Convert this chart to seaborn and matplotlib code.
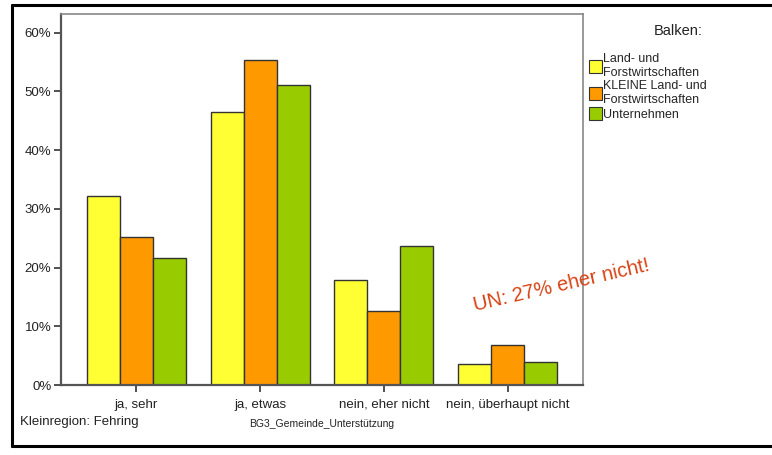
import numpy as np
import pandas as pd
import matplotlib
matplotlib.use("Agg")
import matplotlib.pyplot as plt
import matplotlib.patches as mpatches
import matplotlib.lines as mlines
import matplotlib.ticker as mticker
import seaborn as sns

# --- data ---
categories = ["ja, sehr", "ja, etwas", "nein, eher nicht", "nein, überhaupt nicht"]
groups = ["Land- und\nForstwirtschaften", "KLEINE Land- und\nForstwirtschaften", "Unternehmen"]
land_forst = [32.2, 46.5, 17.9, 3.6]
kleine_lf = [25.2, 55.4, 12.6, 6.8]
unternehmen = [21.6, 51.1, 23.7, 3.9]
yticks = [0, 10, 20, 30, 40, 50, 60]

colors = ["#FFFF33", "#FF9900", "#99CC00"]

df = pd.DataFrame({
    "Antwort": categories * 3,
    "Gruppe": [g for g in groups for _ in categories],
    "Prozent": land_forst + kleine_lf + unternehmen,
})

sns.set_style("white")
plt.rcParams["font.family"] = ["Liberation Sans", "DejaVu Sans"]

fig = plt.figure(figsize=(7.72, 4.55), dpi=100)
ax = fig.add_axes([61 / 772, 1 - 385 / 455, (583 - 61) / 772, (385 - 14) / 455])

sns.barplot(data=df, x="Antwort", y="Prozent", hue="Gruppe", order=categories,
            hue_order=groups, palette=colors, width=0.8, edgecolor="#333333",
            linewidth=1.0, saturation=1, ax=ax, legend=False)

ax.set_xlim(-0.61, 3.61)
ax.set_ylim(0, 63.2)
ax.set_yticks(yticks)
ax.yaxis.set_major_formatter(mticker.FormatStrFormatter("%d%%"))
ax.set_xlabel("")
ax.set_ylabel("")
ax.tick_params(axis="both", which="both", direction="out", length=5, width=1.2,
               color="#333333", labelsize=9.5, labelcolor="#222222", pad=2,
               left=True, bottom=True)
ax.tick_params(axis="x", pad=5)
for side in ["left", "bottom"]:
    ax.spines[side].set_color("#555555")
    ax.spines[side].set_linewidth(1.6)
for side in ["top", "right"]:
    ax.spines[side].set_color("#888888")
    ax.spines[side].set_linewidth(1.2)

# legend
handles = [mpatches.Patch(facecolor=c, edgecolor="#333333", linewidth=0.8) for c in colors]
fig.legend(handles, groups, loc="upper left", bbox_to_anchor=(584 / 772, 1 - 48 / 455),
           frameon=False, fontsize=9, handlelength=1.0, handleheight=1.2,
           handletextpad=0.15, labelspacing=0.1, borderaxespad=0)
fig.text(678 / 772, 1 - 31 / 455, "Balken:", fontsize=10.5, ha="center", va="center",
         color="#222222")

# footer texts
fig.text(20 / 772, 1 - 422 / 455, "Kleinregion: Fehring", fontsize=9.5, ha="left",
         va="center", color="#222222")
fig.text(322 / 772, 1 - 424 / 455, "BG3_Gemeinde_Unterstützung", fontsize=7.5,
         ha="center", va="center", color="#222222")

# annotation
fig.text(562 / 772, 1 - 285 / 455, "UN: 27% eher nicht!", fontsize=14.5, rotation=13,
         ha="center", va="center", color="#D84315", rotation_mode="anchor")

# outer frame
frame_kw = dict(color="black", linewidth=2.2, transform=fig.transFigure)
fig.add_artist(mlines.Line2D([12 / 772, 1.0], [1 - 5 / 455, 1 - 5 / 455], **frame_kw))
fig.add_artist(mlines.Line2D([12 / 772, 12 / 772], [1 - 5 / 455, 1 - 446 / 455], **frame_kw))
fig.add_artist(mlines.Line2D([12 / 772, 1.0], [1 - 446 / 455, 1 - 446 / 455], **frame_kw))

fig.savefig("out.png", dpi=100)
